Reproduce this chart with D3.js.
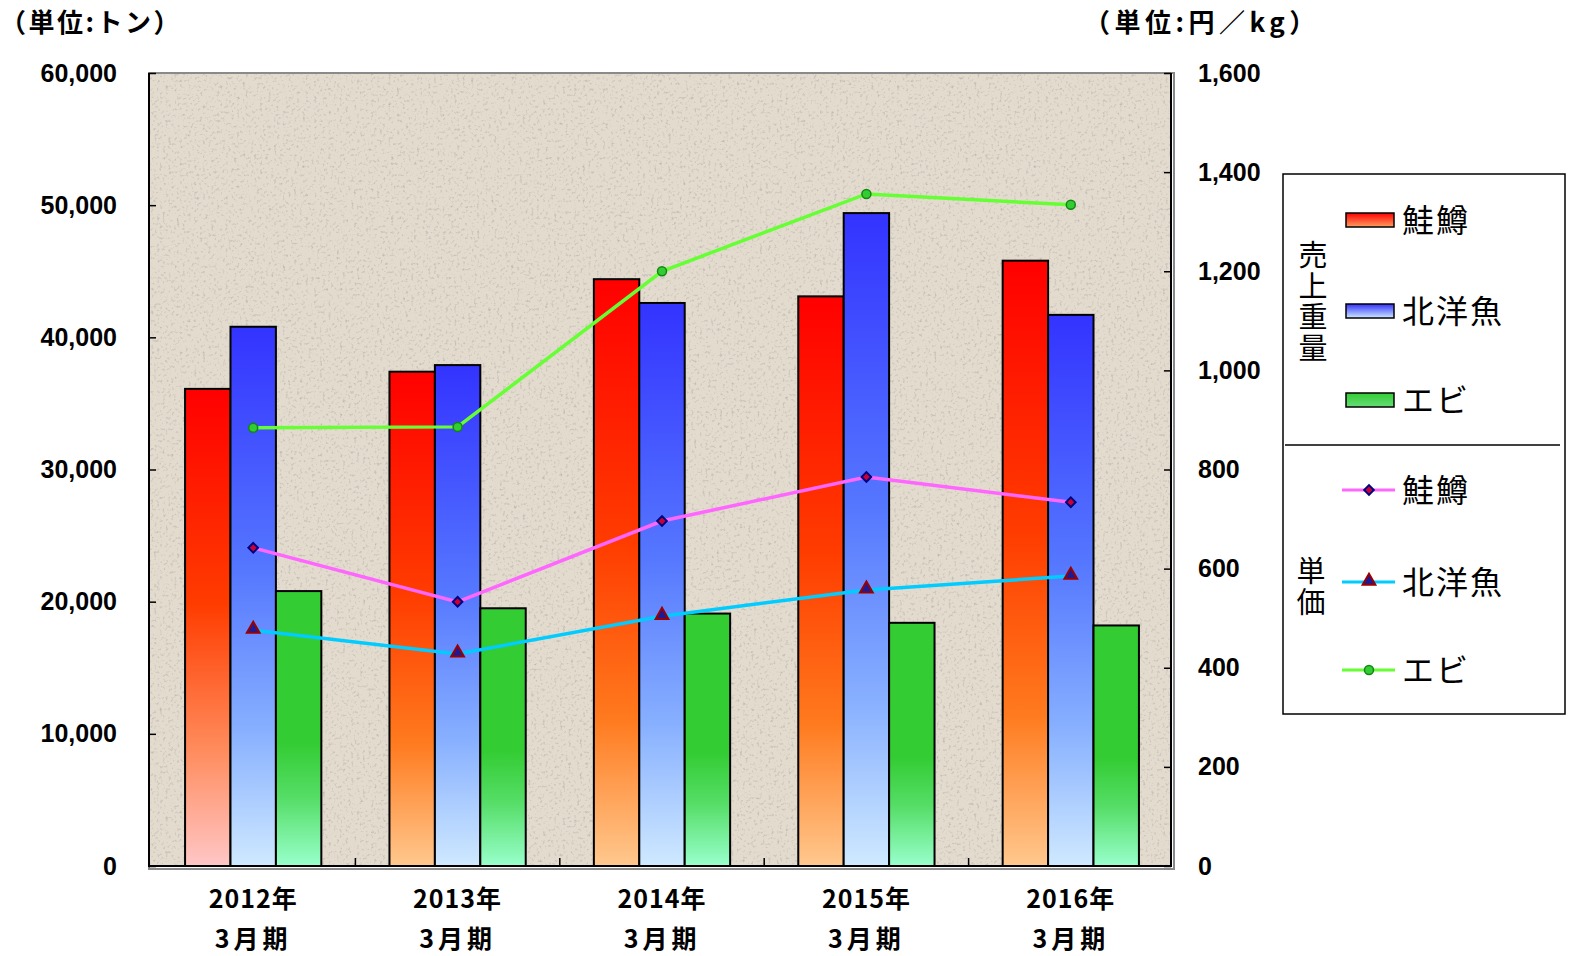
<!DOCTYPE html>
<html>
<head>
<meta charset="utf-8">
<script src="https://cdn.jsdelivr.net/npm/d3@7"></script>
<style>
  body { margin: 0; background: #fff; }
  text { font-family: "Liberation Sans", Arial, sans-serif; }
  .jp { font-family: "Noto Sans CJK JP", sans-serif; }
</style>
</head>
<body>
<svg id="chart" width="1574" height="956"></svg>
<script>
// chart data
var categories = ["2012年", "2013年", "2014年", "2015年", "2016年"];
var sub_label = "3月期";
var series_names = ["鮭鱒", "北洋魚", "エビ"];
var weight_salmon = [36100, 37400, 44400, 43100, 45800];
var weight_north = [40800, 37900, 42600, 49400, 41700];
var weight_shrimp = [20800, 19500, 19100, 18400, 18200];
var price_salmon = [642, 533, 696, 785, 734];
var price_north = [476, 428, 504, 557, 585];
var price_shrimp = [884, 886, 1200, 1356, 1334];
var left_ticks = [0, 10000, 20000, 30000, 40000, 50000, 60000];
var right_ticks = [0, 200, 400, 600, 800, 1000, 1200, 1400, 1600];

var svg = d3.select("#chart");

// plot area
var plot_left = 149, plot_right = 1171, plot_top = 73, plot_bottom = 866;

// categories are drawn 2px right of the axis line, like the original
var x_scale = d3.scaleBand().domain(categories).range([plot_left + 2, plot_right + 2]).paddingInner(0).paddingOuter(0);
// gap width 150% -> outer padding of 0.75 bar on each side
var bar_scale = d3.scaleBand().domain([0, 1, 2]).range([0, x_scale.bandwidth()]).paddingInner(0).paddingOuter(0.75);
var y_left = d3.scaleLinear().domain([0, 60000]).range([plot_bottom, plot_top]);
var y_right = d3.scaleLinear().domain([0, 1600]).range([plot_bottom, plot_top]);

var defs = svg.append("defs");

// speckled paper texture for the plot background
var tex = defs.append("filter").attr("id", "paper").attr("x", 0).attr("y", 0).attr("width", 1).attr("height", 1);
tex.append("feTurbulence").attr("type", "fractalNoise").attr("baseFrequency", 0.35).attr("numOctaves", 2).attr("seed", 4).attr("result", "noise");
tex.append("feColorMatrix").attr("in", "noise").attr("type", "matrix")
  .attr("values", "0 0 0 0 0.48  0 0 0 0 0.45  0 0 0 0 0.41  -2.6 0 0 0 1.18")
  .attr("result", "dots");
tex.append("feComposite").attr("in", "dots").attr("in2", "SourceGraphic").attr("operator", "over");

// bar gradients
function add_gradient(id, stops) {
  var g = defs.append("linearGradient").attr("id", id)
    .attr("x1", 0).attr("y1", 0).attr("x2", 0).attr("y2", 1);
  stops.forEach(function (s) {
    g.append("stop").attr("offset", s[0]).attr("stop-color", s[1]);
  });
}
add_gradient("grad_red", [[0, "#ff0000"], [0.45, "#ff3c00"], [0.75, "#ff7a1e"], [1, "#ffc88e"]]);
add_gradient("grad_red_first", [[0, "#ff0000"], [0.45, "#ff3c00"], [0.75, "#ff8a5a"], [1, "#ffc6c6"]]);
add_gradient("grad_blue", [[0, "#3333ff"], [0.45, "#5577ff"], [0.75, "#88b0ff"], [1, "#cfe9ff"]]);
add_gradient("grad_green", [[0, "#33cc33"], [0.55, "#33cc33"], [0.75, "#55dd66"], [1, "#99ffcc"]]);
add_gradient("leg_red", [[0, "#ff0000"], [1, "#ffa060"]]);
add_gradient("leg_blue", [[0, "#3333ff"], [1, "#cfe9ff"]]);
add_gradient("leg_green", [[0, "#33cc33"], [1, "#66dd77"]]);

// background
svg.append("rect")
  .attr("x", plot_left).attr("y", plot_top)
  .attr("width", plot_right - plot_left).attr("height", plot_bottom - plot_top)
  .attr("fill", "#e3dbce").attr("filter", "url(#paper)");
svg.append("rect")
  .attr("x", plot_left).attr("y", plot_top)
  .attr("width", plot_right - plot_left + 3).attr("height", plot_bottom - plot_top + 3)
  .attr("fill", "none").attr("stroke", "#8a8a8a").attr("stroke-width", 2);

// bars
var bar_series = [weight_salmon, weight_north, weight_shrimp];
var bar_fill = ["grad_red", "grad_blue", "grad_green"];
bar_series.forEach(function (vals, si) {
  svg.append("g").selectAll("rect")
    .data(vals)
    .join("rect")
    .attr("x", function (d, i) { return x_scale(categories[i]) + bar_scale(si); })
    .attr("y", function (d) { return y_left(d); })
    .attr("width", bar_scale.bandwidth())
    .attr("height", function (d) { return plot_bottom - y_left(d); })
    .attr("fill", function (d, i) {
      if (si == 0 && i == 0) return "url(#grad_red_first)";
      return "url(#" + bar_fill[si] + ")";
    })
    .attr("stroke", "#000").attr("stroke-width", 2);
});

// axes lines
svg.append("line").attr("x1", plot_left).attr("x2", plot_left).attr("y1", plot_top).attr("y2", plot_bottom + 1)
  .attr("stroke", "#000").attr("stroke-width", 2);
svg.append("line").attr("x1", plot_right).attr("x2", plot_right).attr("y1", plot_top).attr("y2", plot_bottom + 1)
  .attr("stroke", "#000").attr("stroke-width", 2);
svg.append("line").attr("x1", plot_left - 1).attr("x2", plot_right + 1).attr("y1", plot_bottom).attr("y2", plot_bottom)
  .attr("stroke", "#000").attr("stroke-width", 2);

// left axis
var left_axis = d3.axisLeft(y_left).tickValues(left_ticks).tickSize(-7).tickPadding(32)
  .tickFormat(d3.format(","));
var gl = svg.append("g").attr("transform", "translate(" + plot_left + ",0)").call(left_axis);
gl.select(".domain").remove();
gl.selectAll(".tick line").attr("stroke", "#000").attr("stroke-width", 1.5);
gl.selectAll(".tick text").attr("font-size", 25).attr("font-weight", "bold").attr("fill", "#000")
  .attr("font-family", "Liberation Sans, Arial, sans-serif");

// right axis
var right_axis = d3.axisRight(y_right).tickValues(right_ticks).tickSize(-7).tickPadding(27)
  .tickFormat(d3.format(","));
var gr = svg.append("g").attr("transform", "translate(" + plot_right + ",0)").call(right_axis);
gr.select(".domain").remove();
gr.selectAll(".tick line").attr("stroke", "#000").attr("stroke-width", 1.5);
gr.selectAll(".tick text").attr("font-size", 25).attr("font-weight", "bold").attr("fill", "#000")
  .attr("font-family", "Liberation Sans, Arial, sans-serif");

// x ticks at category boundaries
svg.append("g").selectAll("line")
  .data(categories.slice(1))
  .join("line")
  .attr("x1", function (d) { return x_scale(d); }).attr("x2", function (d) { return x_scale(d); })
  .attr("y1", plot_bottom).attr("y2", plot_bottom - 8)
  .attr("stroke", "#000").attr("stroke-width", 1.5);

// x labels
var xl = svg.append("g").selectAll("g")
  .data(categories)
  .join("g")
  .attr("transform", function (d) { return "translate(" + (x_scale(d) + x_scale.bandwidth() / 2) + ",0)"; });
xl.append("text").attr("class", "jp").attr("y", 908).attr("text-anchor", "middle")
  .attr("font-size", 25).attr("font-weight", "bold").attr("letter-spacing", 1)
  .text(function (d) { return d; });
xl.append("text").attr("class", "jp").attr("y", 948).attr("text-anchor", "middle")
  .attr("font-size", 25).attr("font-weight", "bold").attr("letter-spacing", 4)
  .text(sub_label);

// axis titles
svg.append("text").attr("class", "jp").attr("x", 0).attr("y", 32)
  .attr("font-size", 26).attr("font-weight", "bold").attr("letter-spacing", 2.5).text("（単位:トン）");
svg.append("text").attr("class", "jp").attr("x", 1084).attr("y", 32)
  .attr("font-size", 26).attr("font-weight", "bold").attr("letter-spacing", 4.5).text("（単位:円／kg）");

// price lines
var x_center = function (i) { return x_scale(categories[i]) + x_scale.bandwidth() / 2; };
var line_gen = d3.line()
  .x(function (d, i) { return x_center(i); })
  .y(function (d) { return y_right(d); });

var line_series = [price_salmon, price_north, price_shrimp];
var line_color = ["#ff66ff", "#00ccff", "#66ff33"];

var diamond = d3.symbol().type(d3.symbolSquare).size(46);
var triangle = d3.symbol().type(d3.symbolTriangle).size(70);

function draw_marker(g, kind, x, y) {
  if (kind == 0) {
    g.append("path").attr("d", diamond()).attr("transform", "translate(" + x + "," + y + ") rotate(45)")
      .attr("fill", "#cc0033").attr("stroke", "#000080").attr("stroke-width", 2);
  } else if (kind == 1) {
    g.append("path").attr("d", triangle()).attr("transform", "translate(" + x + "," + (y - 1) + ")")
      .attr("fill", "#1a1a99").attr("stroke", "#990000").attr("stroke-width", 2);
  } else {
    g.append("circle").attr("cx", x).attr("cy", y).attr("r", 4.5)
      .attr("fill", "#33cc33").attr("stroke", "#118811").attr("stroke-width", 1.5);
  }
}

line_series.forEach(function (vals, si) {
  svg.append("path").datum(vals)
    .attr("d", line_gen)
    .attr("fill", "none").attr("stroke", line_color[si]).attr("stroke-width", 3.5);
  var mg = svg.append("g");
  vals.forEach(function (v, i) { draw_marker(mg, si, x_center(i), y_right(v)); });
});

// legend
var legend = svg.append("g");
legend.append("rect").attr("x", 1283).attr("y", 174).attr("width", 282).attr("height", 540)
  .attr("fill", "#fff").attr("stroke", "#000").attr("stroke-width", 1.5);
legend.append("line").attr("x1", 1285).attr("x2", 1560).attr("y1", 445).attr("y2", 445)
  .attr("stroke", "#000").attr("stroke-width", 1.5);

var leg_bar_y = [220, 311, 400];
var leg_fill = ["leg_red", "leg_blue", "leg_green"];
series_names.forEach(function (name, i) {
  legend.append("rect").attr("x", 1346).attr("y", leg_bar_y[i] - 7).attr("width", 48).attr("height", 14)
    .attr("fill", "url(#" + leg_fill[i] + ")").attr("stroke", "#000").attr("stroke-width", 1.5);
  legend.append("text").attr("class", "jp").attr("x", 1402).attr("y", leg_bar_y[i] + 12)
    .attr("font-size", 32).attr("letter-spacing", 2).text(name);
});

var leg_line_y = [490, 582, 670];
series_names.forEach(function (name, i) {
  legend.append("line").attr("x1", 1342).attr("x2", 1395).attr("y1", leg_line_y[i]).attr("y2", leg_line_y[i])
    .attr("stroke", line_color[i]).attr("stroke-width", 3);
  draw_marker(legend, i, 1369, leg_line_y[i]);
  legend.append("text").attr("class", "jp").attr("x", 1402).attr("y", leg_line_y[i] + 12)
    .attr("font-size", 32).attr("letter-spacing", 2).text(name);
});

// vertical group labels
legend.append("text").attr("class", "jp").attr("x", 1313).attr("y", 240)
  .attr("writing-mode", "vertical-rl").attr("font-size", 29).attr("letter-spacing", 2)
  .text("売上重量");
legend.append("text").attr("class", "jp").attr("x", 1311).attr("y", 556)
  .attr("writing-mode", "vertical-rl").attr("font-size", 29).attr("letter-spacing", 2)
  .text("単価");
</script>
</body>
</html>
